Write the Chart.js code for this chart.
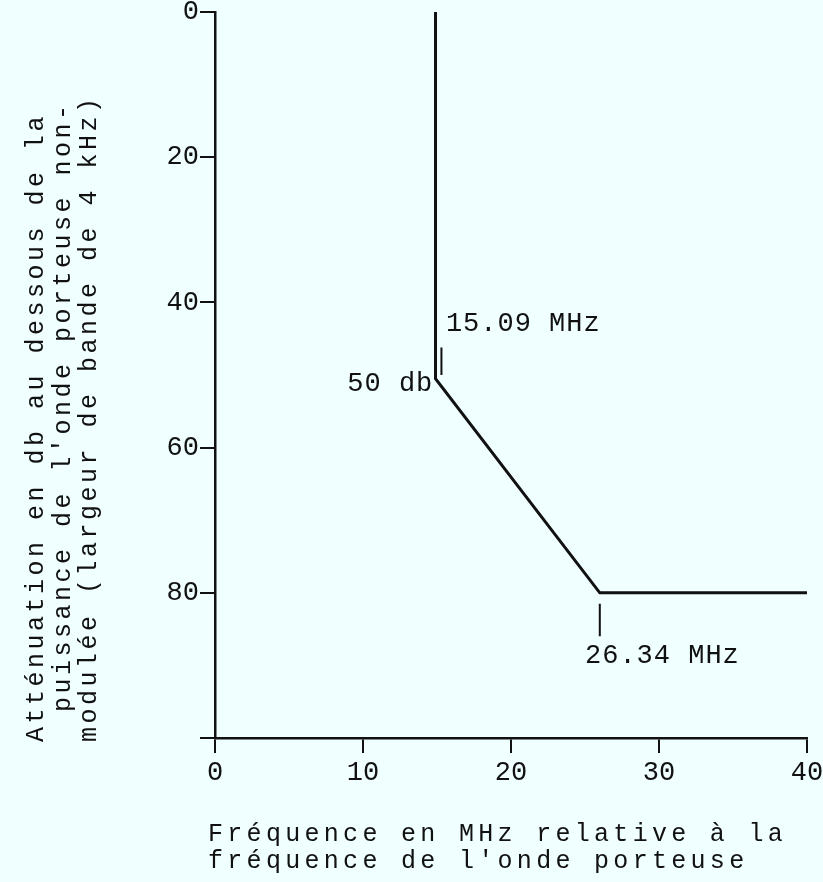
<!DOCTYPE html>
<html><head><meta charset="utf-8">
<script src="https://cdn.jsdelivr.net/npm/chart.js@4/dist/chart.umd.min.js"></script>
<style>html,body{margin:0;padding:0;background:#f0ffff;} canvas{display:block;}</style>
</head><body>
<canvas id="c" width="823" height="882"></canvas>
<script>
// Attenuation mask (frequency in MHz, attenuation in dB)
const freqMHz = [14.9, 14.9, 26.0, 40];
const attenDb = [0, 50.5, 80, 80];
// small reference marks next to the break points
const markFreq = [15.3, 26.0];
const markTop = [46.2, 81.5];
const markBottom = [50.0, 86.0];
// ticks
const xTicks = [0, 10, 20, 30, 40];
const xTickLabels = ['0', '10', '20', '30', '40'];
const yTicks = [0, 20, 40, 60, 80, 100];
const yTickLabels = ['0', '20', '40', '60', '80', ''];
// annotations
const annTexts = ['15.09 MHz', '50 db', '26.34 MHz'];
const annFreq = [15.6, 14.75, 25.0];
const annDb = [43.0, 51.2, 88.7];
const annAlign = ['left', 'right', 'left'];
// titles
const xTitle = ["Fréquence en MHz relative à la", "fréquence de l'onde porteuse"];
const yTitle = ["Atténuation en db au dessous de la", "puissance de l'onde porteuse non-", "modulée (largeur de bande de 4 kHz)"];

const INK = '#111111';
const BG = '#f0ffff';
const MONO = '"Liberation Mono", "DejaVu Sans Mono", monospace';

const textPlugin = {
  id: 'texts',
  beforeDraw(chart) {
    const c = chart.ctx;
    c.save(); c.fillStyle = BG; c.fillRect(0, 0, chart.width, chart.height); c.restore();
  },
  afterDraw(chart) {
    const ctx = chart.ctx, xs = chart.scales.x, ys = chart.scales.y;
    ctx.save();
    ctx.fillStyle = INK;
    ctx.font = '27px ' + MONO;
    ctx.letterSpacing = '1px';
    ctx.textBaseline = 'middle';
    annTexts.forEach((t, i) => {
      ctx.textAlign = annAlign[i];
      ctx.fillText(t, xs.getPixelForValue(annFreq[i]), ys.getPixelForValue(annDb[i]));
    });
    // x title
    ctx.font = '25px ' + MONO;
    ctx.letterSpacing = '4.3px';
    ctx.textAlign = 'left';
    ctx.textBaseline = 'alphabetic';
    xTitle.forEach((t, i) => ctx.fillText(t, 208, 841 + 27 * i));
    // y title (rotated)
    ctx.letterSpacing = '3.5px';
    const base = [43, 70, 96];
    const start = [742, 712, 742];
    yTitle.forEach((t, i) => {
      ctx.save();
      ctx.translate(base[i], start[i]);
      ctx.rotate(-Math.PI / 2);
      ctx.fillText(t, 0, 0);
      ctx.restore();
    });
    ctx.restore();
  }
};

const datasets = [{
  data: freqMHz.map((x, i) => ({ x: x, y: attenDb[i] })),
  showLine: true, borderColor: INK, borderWidth: 3, pointRadius: 0, fill: false, tension: 0
}];
markFreq.forEach((f, i) => {
  datasets.push({
    data: [{ x: f, y: markTop[i] }, { x: f, y: markBottom[i] }],
    showLine: true, borderColor: INK, borderWidth: 2, pointRadius: 0, fill: false
  });
});

const tickFont = { family: MONO, size: 27, lineHeight: 1 };

new Chart(document.getElementById('c'), {
  type: 'scatter',
  data: { datasets: datasets },
  plugins: [textPlugin],
  options: {
    responsive: false, animation: false, devicePixelRatio: 1,
    clip: false,
    layout: { padding: { left: 0, top: 12, right: 16, bottom: 0 } },
    plugins: { legend: { display: false }, tooltip: { enabled: false } },
    scales: {
      x: {
        type: 'linear', min: 0, max: 40,
        afterBuildTicks: s => { s.ticks = xTicks.map(v => ({ value: v })); },
        ticks: { callback: (v, i) => xTickLabels[i], font: tickFont, color: INK, padding: 6, maxRotation: 0, autoSkip: false },
        grid: { drawOnChartArea: false, drawTicks: true, tickLength: 15, color: INK, lineWidth: 2 },
        border: { display: true, color: INK, width: 2.5 },
        afterFit: s => { s.height = 144; s.paddingLeft = 0; s.paddingRight = 0; }
      },
      y: {
        type: 'linear', min: 0, max: 100, reverse: true,
        afterBuildTicks: s => { s.ticks = yTicks.map(v => ({ value: v })); },
        ticks: { callback: (v, i) => yTickLabels[i], font: tickFont, color: INK, padding: 1, autoSkip: false },
        grid: { drawOnChartArea: false, drawTicks: true, tickLength: 15, color: INK, lineWidth: 2 },
        border: { display: true, color: INK, width: 2.5 },
        afterFit: s => { s.width = 215; s.paddingTop = 0; s.paddingBottom = 0; }
      }
    }
  }
});
</script>
</body></html>
